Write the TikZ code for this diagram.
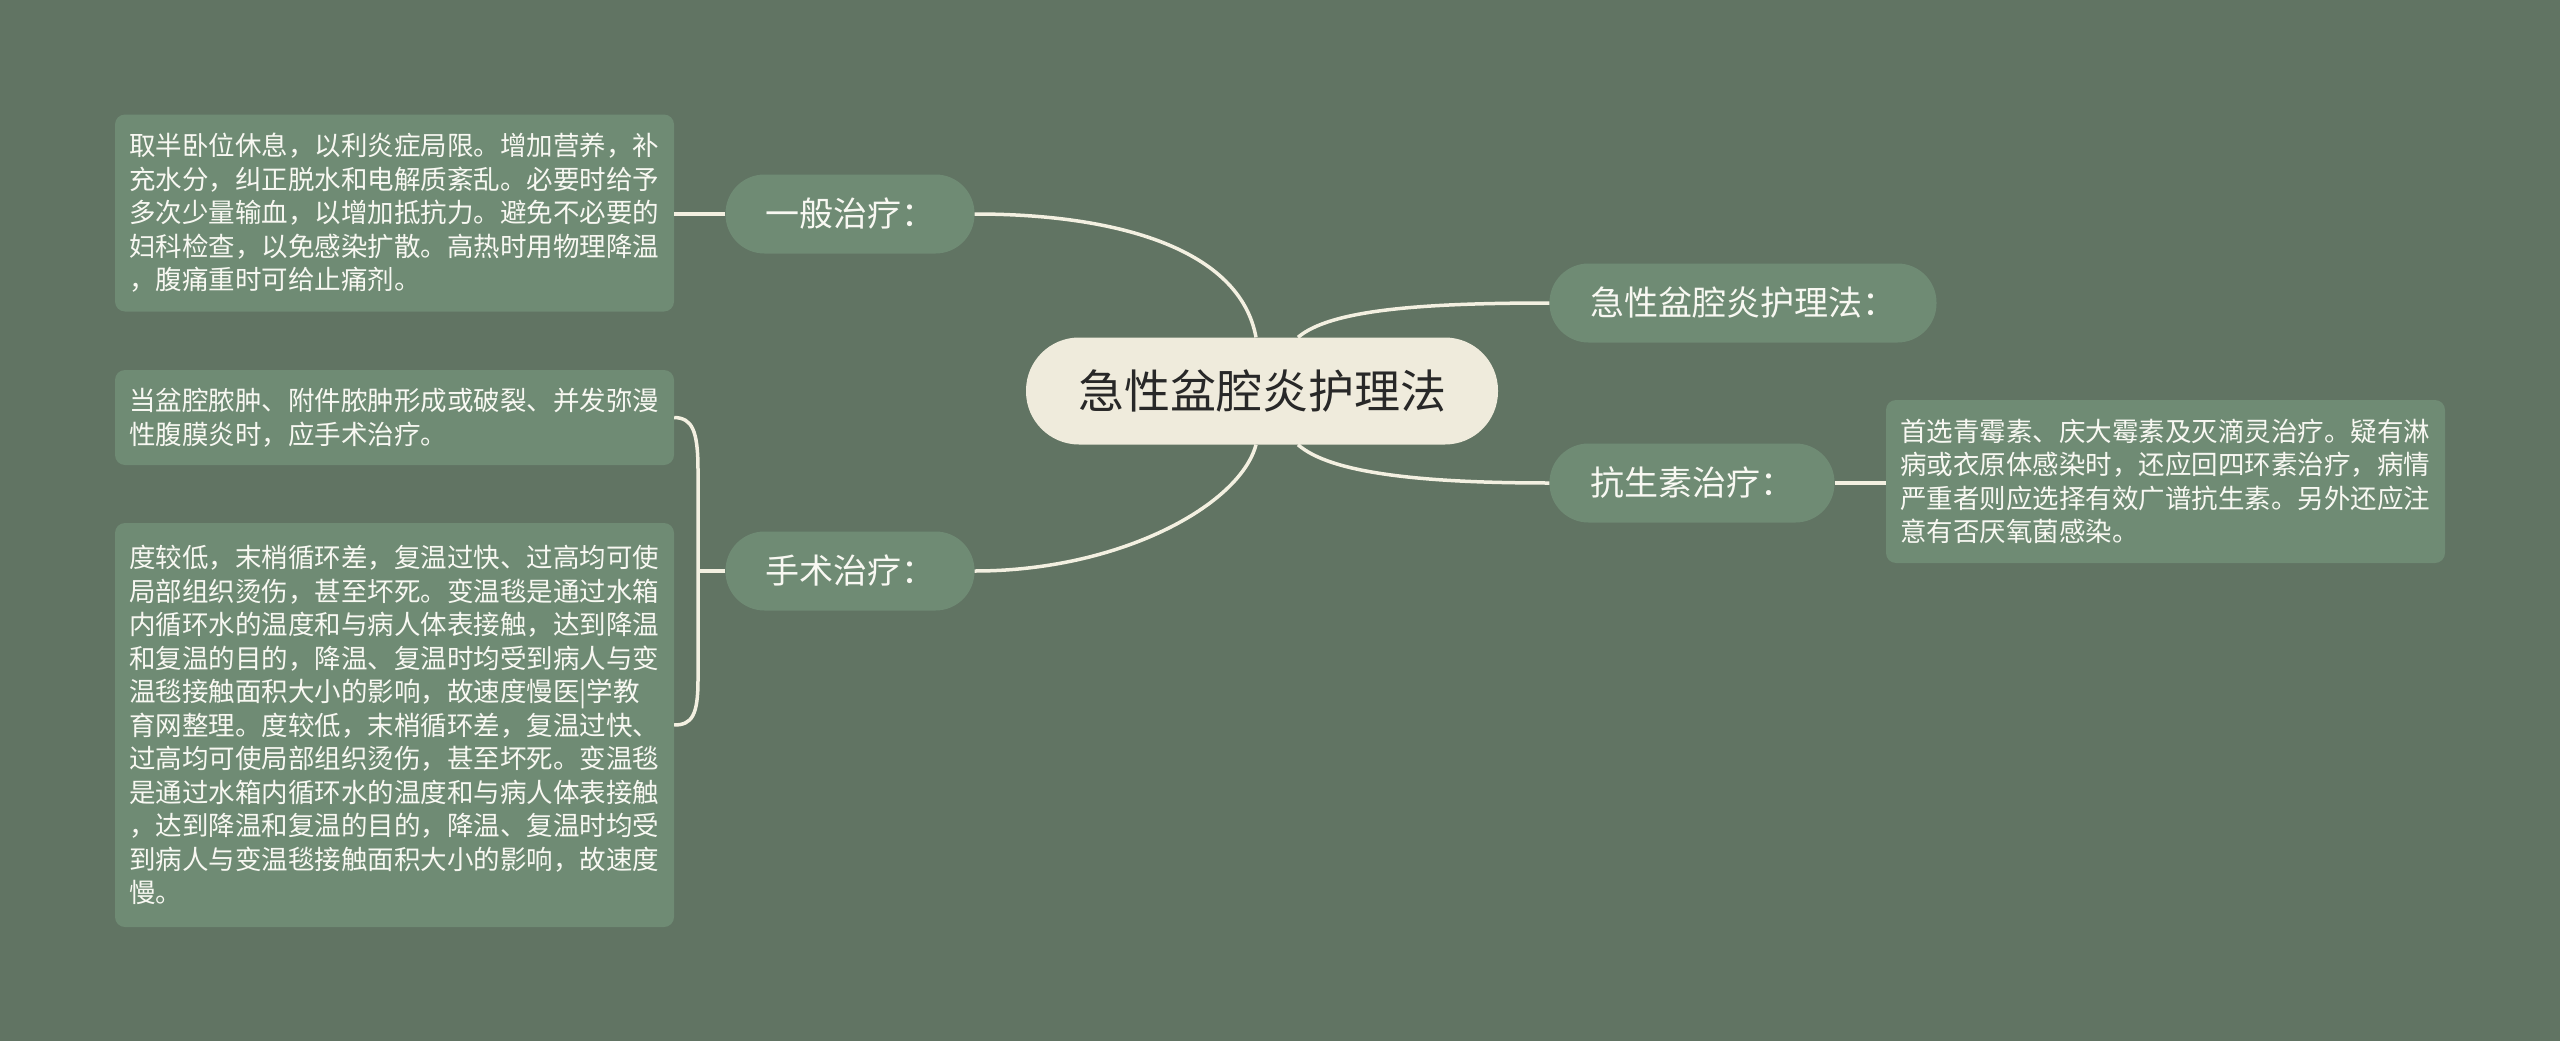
\documentclass[tikz,border=0pt]{standalone}
\usepackage{fontspec}
\setmainfont{Noto Sans CJK SC}
\definecolor{bgcol}{RGB}{97,116,99}
\definecolor{nodefill}{RGB}{111,139,116}
\definecolor{centerfill}{RGB}{239,235,220}
\definecolor{centertext}{RGB}{40,40,40}
\definecolor{linecol}{RGB}{243,240,225}
\definecolor{nodetext}{RGB}{248,248,242}
\begin{document}
\begin{tikzpicture}[x=1pt,y=-1pt,
  mainnode/.style={fill=nodefill, text=nodetext, font=\fontsize{34}{38}\selectfont, rounded corners=39pt, minimum height=79pt, inner sep=0pt},
  leaf/.style={fill=nodefill, text=nodetext, rounded corners=10pt, align=left, font=\fontsize{26.5}{33.5}\selectfont, inner xsep=14pt, inner ysep=0pt, text width=531pt},
  link/.style={draw=linecol, line width=3.5pt}]
\fill[bgcol] (0,0) rectangle (2560,1041);
\useasboundingbox (0,0) rectangle (2560,1041);

\node[fill=centerfill, text=centertext, rounded corners=53pt, minimum width=472pt, minimum height=107pt, inner sep=0pt, font=\fontsize{46}{50}\selectfont] (c) at (1262,391) {急性盆腔炎护理法};

\node[mainnode, minimum width=249pt] (g) at (850,214) {一般治疗：};
\node[mainnode, minimum width=249pt] (s) at (850,571) {手术治疗：};
\node[mainnode, minimum width=387pt] (j) at (1743,303) {急性盆腔炎护理法：};
\node[mainnode, minimum width=285pt] (k) at (1692,483) {抗生素治疗：};

\node[leaf, minimum height=197pt] (b1) at (394.5,213) {取半卧位休息，以利炎症局限。增加营养，补\\充水分，纠正脱水和电解质紊乱。必要时给予\\多次少量输血，以增加抵抗力。避免不必要的\\妇科检查，以免感染扩散。高热时用物理降温\\，腹痛重时可给止痛剂。};
\node[leaf, minimum height=95pt] (b2) at (394.5,417.5) {当盆腔脓肿、附件脓肿形成或破裂、并发弥漫\\性腹膜炎时，应手术治疗。};
\node[leaf, minimum height=404pt] (b3) at (394.5,725) {度较低，末梢循环差，复温过快、过高均可使\\局部组织烫伤，甚至坏死。变温毯是通过水箱\\内循环水的温度和与病人体表接触，达到降温\\和复温的目的，降温、复温时均受到病人与变\\温毯接触面积大小的影响，故速度慢医|学教\\育网整理。度较低，末梢循环差，复温过快、\\过高均可使局部组织烫伤，甚至坏死。变温毯\\是通过水箱内循环水的温度和与病人体表接触\\，达到降温和复温的目的，降温、复温时均受\\到病人与变温毯接触面积大小的影响，故速度\\慢。};
\node[leaf, minimum height=163pt] (b4) at (2165.5,481.5) {首选青霉素、庆大霉素及灭滴灵治疗。疑有淋\\病或衣原体感染时，还应回四环素治疗，病情\\严重者则应选择有效广谱抗生素。另外还应注\\意有否厌氧菌感染。};

% center connectors
\draw[link] ([xshift=-6pt]c.north) .. controls (1240,250) and (1120,214) .. (g.east);
\draw[link] ([xshift=-6pt]c.south) .. controls (1240,505) and (1120,571) .. (s.east);
\draw[link] ([xshift=36pt]c.north) .. controls (1330,310) and (1420,303) .. (j.west);
\draw[link] ([xshift=36pt]c.south) .. controls (1330,473) and (1420,483) .. (k.west);

% leaf connectors
\draw[link] (g.west) -- (b1.east |- g.west);
\draw[link] (k.east) -- (b4.west |- k.east);
\coordinate (bx) at (698,571);
\draw[link] (s.west) -- (bx);
\draw[link] (b2.east) .. controls (692,418) and (698,430) .. (698,470) -- (698,680) .. controls (698,715) and (692,725) .. (b3.east);
\end{tikzpicture}
\end{document}
